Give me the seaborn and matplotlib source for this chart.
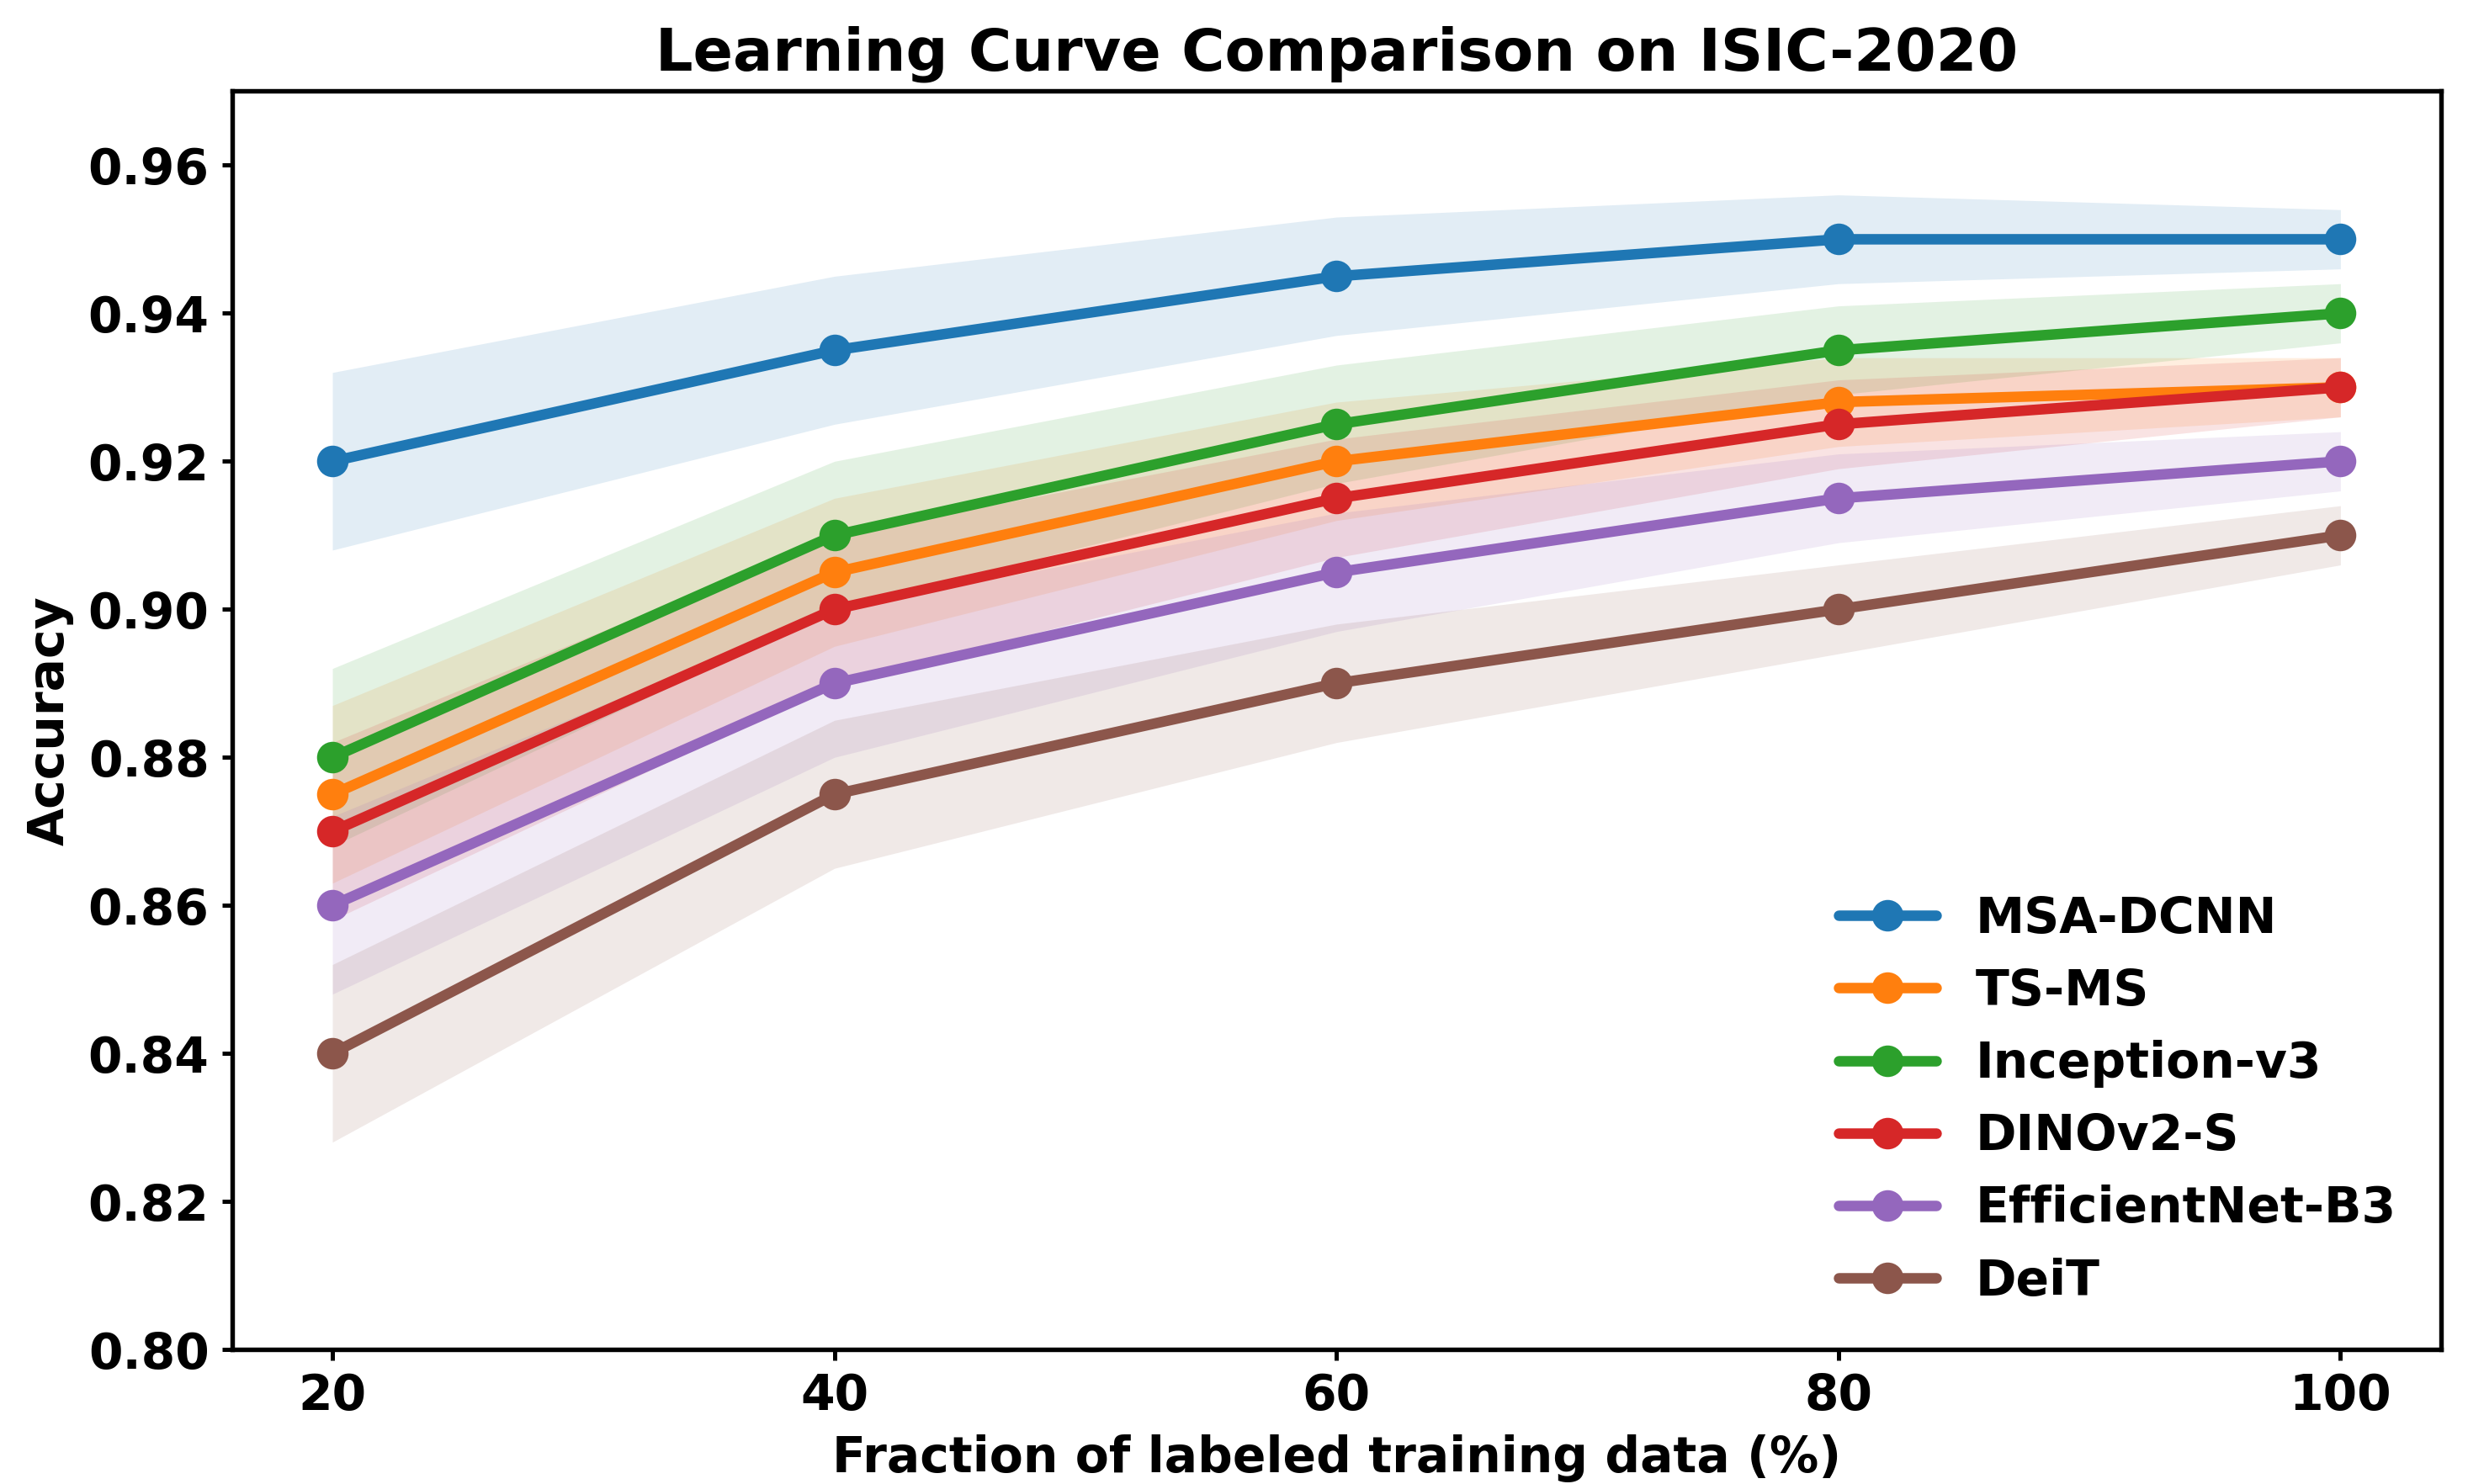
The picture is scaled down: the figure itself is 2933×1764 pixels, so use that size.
import numpy as np
import pandas as pd
import matplotlib
matplotlib.use("Agg")
import matplotlib.pyplot as plt
import seaborn as sns

# ---- data ----
fractions = [20, 40, 60, 80, 100]
models = ["MSA-DCNN", "TS-MS", "Inception-v3", "DINOv2-S", "EfficientNet-B3", "DeiT"]
msa_dcnn = [0.920, 0.935, 0.945, 0.950, 0.950]
ts_ms = [0.875, 0.905, 0.920, 0.928, 0.930]
inception_v3 = [0.880, 0.910, 0.925, 0.935, 0.940]
dinov2_s = [0.870, 0.900, 0.915, 0.925, 0.930]
efficientnet_b3 = [0.860, 0.890, 0.905, 0.915, 0.920]
deit = [0.840, 0.875, 0.890, 0.900, 0.910]
spread = [0.012, 0.010, 0.008, 0.006, 0.004]
yticks = [0.80, 0.82, 0.84, 0.86, 0.88, 0.90, 0.92, 0.94, 0.96]

series = [msa_dcnn, ts_ms, inception_v3, dinov2_s, efficientnet_b3, deit]

sns.set_theme(style="white")
plt.rcParams.update({
    "font.family": ["DejaVu Sans"],
    "font.weight": "bold",
    "axes.labelweight": "bold",
    "axes.titleweight": "bold",
    "text.color": "black",
    "axes.labelcolor": "black",
    "xtick.color": "black",
    "ytick.color": "black",
})

palette = sns.color_palette("tab10", len(models))

fig = plt.figure(figsize=(2933 / 300, 1764 / 300), dpi=300)
ax = fig.add_axes([0.094, 0.0907, 0.989 - 0.094, 0.9385 - 0.0907])

for name, vals, col in zip(models, series, palette):
    v = np.array(vals)
    s = np.array(spread)
    ax.fill_between(fractions, v - s, v + s, color=col, alpha=0.13, linewidth=0)
    df = pd.DataFrame({"x": fractions, "y": vals})
    sns.lineplot(data=df, x="x", y="y", ax=ax, color=col, marker="o",
                 markersize=9, markeredgewidth=0, linewidth=3, label=name)

ax.set_xlim(16, 104)
ax.set_ylim(0.80, 0.97)
ax.set_xticks(fractions)
ax.set_xticklabels([str(f) for f in fractions])
ax.set_yticks(yticks)
ax.set_yticklabels([f"{t:.2f}" for t in yticks])
ax.tick_params(axis="both", labelsize=14, length=3, width=1.2, direction="out",
               bottom=True, left=True, color="black", labelcolor="black")
for sp in ax.spines.values():
    sp.set_linewidth(1.3)
    sp.set_color("black")

ax.set_xlabel("Fraction of labeled training data (%)", fontsize=14, color="black")
ax.set_ylabel("Accuracy", fontsize=14, color="black")
ax.set_title("Learning Curve Comparison on ISIC-2020", fontsize=16.8, color="black")
leg = ax.legend(loc="lower right", frameon=False, fontsize=14)
for t in leg.get_texts():
    t.set_fontweight("bold")
    t.set_color("black")

fig.savefig("out.png", dpi=300)
